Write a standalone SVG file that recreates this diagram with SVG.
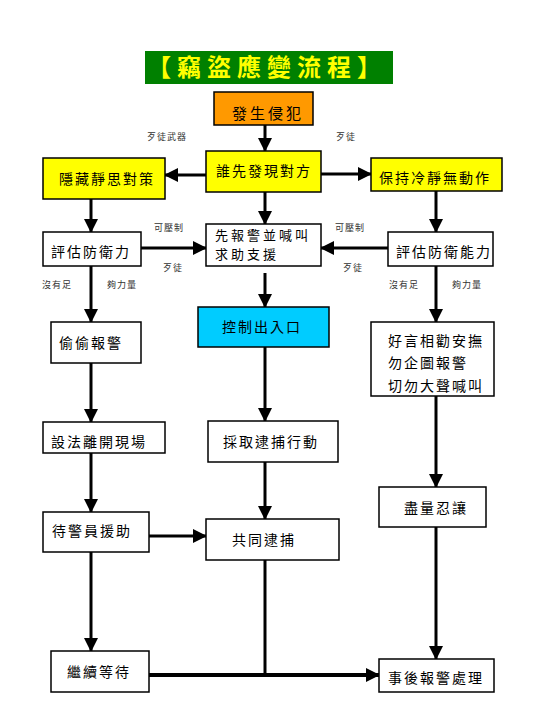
<svg xmlns="http://www.w3.org/2000/svg" width="540" height="708" viewBox="0 0 540 708">
<defs>
<marker id="ah" markerUnits="userSpaceOnUse" markerWidth="14" markerHeight="14" refX="13" refY="7" orient="auto">
<path d="M0,0 L14,7 L0,14 Z" fill="#000"/>
</marker>
<style>
.box{stroke:#000;stroke-width:1.5;fill:#fff}
.t{font-family:"Noto Sans CJK TC","Noto Sans CJK SC",sans-serif;font-size:14px;letter-spacing:2px;fill:#000}
.s{font-family:"Noto Sans CJK TC","Noto Sans CJK SC",sans-serif;font-size:9px;letter-spacing:1px;fill:#333}
.c{stroke:#000;stroke-width:3;fill:none}
.a{marker-end:url(#ah)}
</style>
</defs>
<rect width="540" height="708" fill="#fff"/>
<g id="title">
<rect x="145" y="51" width="248" height="33" fill="#008000"/>
<text x="147" y="76" style="font-family:'Noto Sans CJK TC','Noto Sans CJK SC',sans-serif;font-size:24px;font-weight:bold;letter-spacing:6px;fill:#ffff00">【竊盜應變流程】</text>
</g>
<g id="connectors">
<line class="c a" x1="265" y1="125" x2="265" y2="151"/>
<line class="c a" x1="206" y1="175" x2="165" y2="175"/>
<line class="c a" x1="321" y1="174" x2="371" y2="174"/>
<line class="c a" x1="265" y1="192" x2="265" y2="224"/>
<line class="c a" x1="91" y1="199" x2="91" y2="232"/>
<line class="c a" x1="436" y1="191" x2="436" y2="232"/>
<line class="c a" x1="141" y1="248" x2="206" y2="248"/>
<line class="c a" x1="388" y1="248" x2="321" y2="248"/>
<line class="c a" x1="265" y1="273" x2="265" y2="307"/>
<line class="c a" x1="91" y1="266" x2="91" y2="322"/>
<line class="c a" x1="436" y1="266" x2="436" y2="322"/>
<line class="c a" x1="91" y1="363" x2="91" y2="422"/>
<line class="c a" x1="265" y1="347" x2="265" y2="421"/>
<line class="c a" x1="436" y1="396" x2="436" y2="487"/>
<line class="c a" x1="91" y1="453" x2="91" y2="512"/>
<line class="c a" x1="265" y1="462" x2="265" y2="519"/>
<line class="c a" x1="149" y1="536" x2="206" y2="536"/>
<line class="c a" x1="91" y1="552" x2="91" y2="651"/>
<line class="c a" x1="436" y1="527" x2="436" y2="659"/>
<line class="c" x1="265" y1="560" x2="265" y2="676"/>
<line class="c a" x1="149" y1="675" x2="379" y2="675" style="stroke-width:4"/>
</g>
<g id="labels">
<text class="s" x="147" y="140">歹徒武器</text>
<text class="s" x="336" y="140">歹徒</text>
<text class="s" x="154" y="231">可壓制</text>
<text class="s" x="335" y="231">可壓制</text>
<text class="s" x="163" y="271">歹徒</text>
<text class="s" x="343" y="271">歹徒</text>
<text class="s" x="42" y="288">沒有足</text>
<text class="s" x="107" y="288">夠力量</text>
<text class="s" x="389" y="288">沒有足</text>
<text class="s" x="452" y="288">夠力量</text>
</g>
<g id="n_start"><rect class="box" x="214" y="92" width="99" height="33" style="fill:#ff9900"/><text class="t" x="232" y="119" style="font-size:15px;letter-spacing:3px">發生侵犯</text></g>
<g id="n_who"><rect class="box" x="206" y="151" width="115" height="41" style="fill:#ffff00"/><text class="t" x="216" y="176">誰先發現對方</text></g>
<g id="n_hide"><rect class="box" x="43" y="158" width="122" height="41" style="fill:#ffff00"/><text class="t" x="59" y="184">隱藏靜思對策</text></g>
<g id="n_calm"><rect class="box" x="371" y="158" width="131" height="33" style="fill:#ffff00"/><text class="t" x="379" y="183">保持冷靜無動作</text></g>
<g id="n_report"><rect class="box" x="206" y="224" width="115" height="42"/><text class="t" x="215" y="240" style="font-size:13px;letter-spacing:3px">先報警並喊叫</text><text class="t" x="215" y="259" style="font-size:13px;letter-spacing:3px">求助支援</text></g>
<g id="n_evalL"><rect class="box" x="43" y="232" width="98" height="34"/><text class="t" x="51" y="257">評估防衛力</text></g>
<g id="n_evalR"><rect class="box" x="388" y="232" width="105" height="34"/><text class="t" x="396" y="257">評估防衛能力</text></g>
<g id="n_control"><rect class="box" x="198" y="307" width="131" height="40" style="fill:#00ccff"/><text class="t" x="222" y="332">控制出入口</text></g>
<g id="n_secret"><rect class="box" x="51" y="322" width="90" height="41"/><text class="t" x="59" y="348">偷偷報警</text></g>
<g id="n_persuade"><rect class="box" x="371" y="322" width="123" height="74"/><text class="t" x="388" y="346">好言相勸安撫</text><text class="t" x="388" y="368">勿企圖報警</text><text class="t" x="388" y="391">切勿大聲喊叫</text></g>
<g id="n_leave"><rect class="box" x="43" y="422" width="122" height="31"/><text class="t" x="51" y="447">設法離開現場</text></g>
<g id="n_arrest"><rect class="box" x="208" y="421" width="130" height="41"/><text class="t" x="223" y="447">採取逮捕行動</text></g>
<g id="n_endure"><rect class="box" x="379" y="487" width="107" height="40"/><text class="t" x="404" y="513">盡量忍讓</text></g>
<g id="n_waitpolice"><rect class="box" x="43" y="512" width="106" height="40"/><text class="t" x="52" y="536">待警員援助</text></g>
<g id="n_joint"><rect class="box" x="206" y="519" width="133" height="41"/><text class="t" x="232" y="545">共同逮捕</text></g>
<g id="n_keepwait"><rect class="box" x="51" y="651" width="98" height="41"/><text class="t" x="67" y="677">繼續等待</text></g>
<g id="n_after"><rect class="box" x="379" y="659" width="115" height="33"/><text class="t" x="388" y="683">事後報警處理</text></g>
</svg>
